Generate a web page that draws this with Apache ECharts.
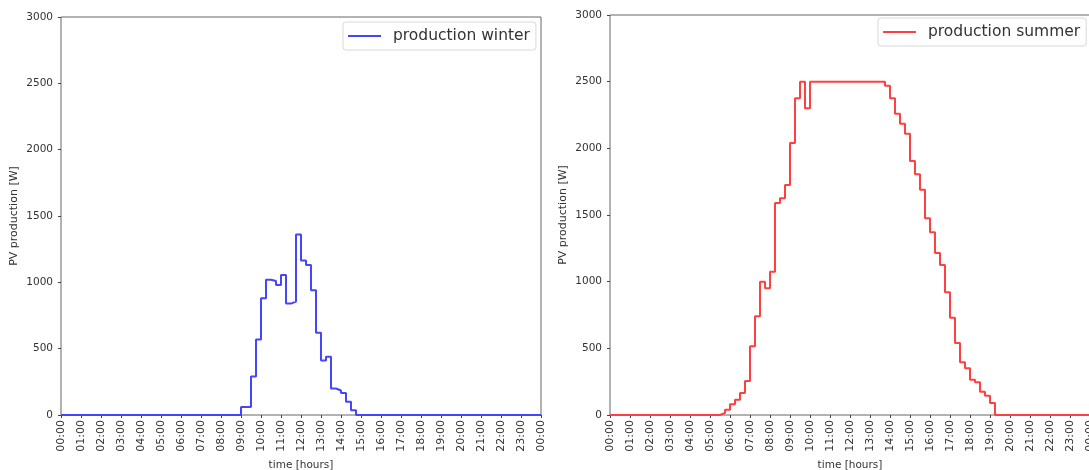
<!DOCTYPE html>
<html>
<head>
<meta charset="utf-8">
<script src="https://cdn.jsdelivr.net/npm/echarts@6/dist/echarts.min.js"></script>
<style>html,body{margin:0;padding:0;background:#fff}#c{width:1089px;height:470px}</style>
</head>
<body>
<div id="c"></div>
<script>
// 15-minute steps, 96 per day (00:00 .. 23:45)
const winter = [
  0,0,0,0, 0,0,0,0, 0,0,0,0, 0,0,0,0, 0,0,0,0, 0,0,0,0,
  0,0,0,0, 0,0,0,0, 0,0,0,0,
  60,60,290,570, 880,1020,1010,980, 1055,840,855,1360,
  1165,1130,940,620, 410,440,200,185, 165,100,35,0,
  0,0,0,0, 0,0,0,0, 0,0,0,0, 0,0,0,0, 0,0,0,0, 0,0,0,0,
  0,0,0,0, 0,0,0,0, 0,0,0,0
];
const summer = [
  0,0,0,0, 0,0,0,0, 0,0,0,0, 0,0,0,0, 0,0,0,0,
  0,0,15,40, 80,115,165,255, 515,740,1000,950,
  1075,1590,1625,1725, 2040,2375,2500,2300, 2500,2500,2500,2500,
  2500,2500,2500,2500, 2500,2500,2500,2500, 2500,2500,2500,2470,
  2375,2260,2185,2110, 1905,1805,1690,1475, 1370,1215,1125,920,
  730,540,395,350, 265,245,175,145, 90,0,0,0,
  0,0,0,0, 0,0,0,0, 0,0,0,0, 0,0,0,0
];
const hourLabels = ["00:00","01:00","02:00","03:00","04:00","05:00","06:00","07:00",
  "08:00","09:00","10:00","11:00","12:00","13:00","14:00","15:00","16:00","17:00",
  "18:00","19:00","20:00","21:00","22:00","23:00","00:00"];
const yTicks = [0,500,1000,1500,2000,2500,3000];

function toPoints(vals){
  const pts = vals.map((v,i)=>[i/4, v]);
  pts.push([24, vals[vals.length-1]]);
  return pts;
}
const FONT = 'DejaVu Sans';
function xAx(gi){
  return {
    type:'value', gridIndex:gi, min:0, max:24, interval:1,
    name:'time [hours]', nameLocation:'middle', nameGap:45,
    nameTextStyle:{fontFamily:FONT, fontSize:10.5, color:'#333'},
    axisLine:{show:false},
    axisTick:{show:true, length:3, lineStyle:{color:'#444'}},
    splitLine:{show:false},
    axisLabel:{rotate:90, fontFamily:FONT, fontSize:11, color:'#333', margin:5,
      formatter:(v)=>hourLabels[Math.round(v)]}
  };
}
function yAx(gi){
  return {
    type:'value', gridIndex:gi, min:yTicks[0], max:yTicks[yTicks.length-1], interval:500,
    name:'PV production [W]', nameLocation:'middle', nameGap:41, nameRotate:90,
    nameTextStyle:{fontFamily:FONT, fontSize:11, color:'#333'},
    axisLine:{show:false},
    axisTick:{show:true, length:3, lineStyle:{color:'#444'}},
    splitLine:{show:false},
    axisLabel:{fontFamily:FONT, fontSize:10.5, color:'#333', margin:8,
      formatter:(v)=>String(v)}
  };
}
function legend(name, left, top){
  return {
    data:[name], left:left, top:top, orient:'horizontal',
    icon:'rect', itemWidth:33, itemHeight:2,
    padding:[6,6,6,5], borderColor:'#d8d8d8', borderWidth:1, borderRadius:3,
    backgroundColor:'#fff',
    textStyle:{fontFamily:FONT, fontSize:15.5, color:'#333', padding:[0,0,0,7]}
  };
}
const chart = echarts.init(document.getElementById('c'), null, {renderer:'canvas'});
chart.setOption({
  backgroundColor:'#fff',
  animation:false,
  grid:[
    {left:61, top:17, width:480, height:398, show:true, borderColor:'#666', borderWidth:1,
     backgroundColor:'transparent', outerBoundsMode:'none'},
    {left:610, top:15, width:480, height:400, show:true, borderColor:'#666', borderWidth:1,
     backgroundColor:'transparent', outerBoundsMode:'none'}
  ],
  xAxis:[xAx(0), xAx(1)],
  yAxis:[yAx(0), yAx(1)],
  legend:[legend('production winter', 343, 22), legend('production summer', 878, 18)],
  series:[
    {name:'production winter', type:'line', step:'end', xAxisIndex:0, yAxisIndex:0,
     data:toPoints(winter), symbol:'none', color:'#4545ff', lineStyle:{width:2, color:'#4545ff'}},
    {name:'production summer', type:'line', step:'end', xAxisIndex:1, yAxisIndex:1,
     data:toPoints(summer), symbol:'none', color:'#ff4040', lineStyle:{width:2, color:'#ff4040'}}
  ]
});
</script>
</body>
</html>
